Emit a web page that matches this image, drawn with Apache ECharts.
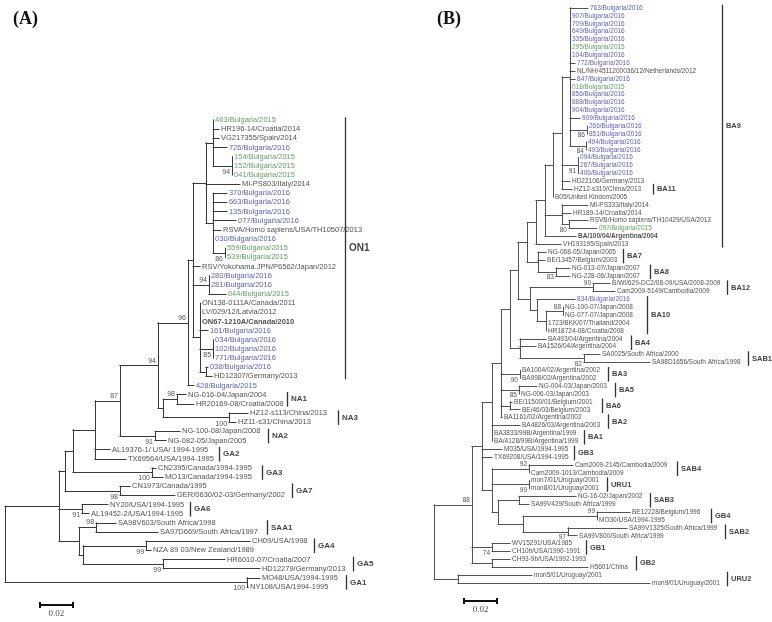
<!DOCTYPE html>
<html><head><meta charset="utf-8">
<script src="https://cdn.jsdelivr.net/npm/echarts@6/dist/echarts.min.js"></script>
<style>html,body{margin:0;padding:0;background:#fff}#c{width:772px;height:622px}</style>
</head><body><div id="c"></div>
<script>
// ---- helpers to describe trees: depth d = distance from root (substitutions/site)
function N(d, s, c){ return {d:d, s:s, c:c}; }
function L(n, d){ return {n:n, d:d}; }

// ---------------- Panel A (NA / GA / ON1) ----------------
const treeA = N(0, null, [
  N(0.0327, null, [
    N(0.0364, null, [
      N(0.0412, null, [
        N(0.0545, null, [
          N(0.0697, 87, [
            N(0.0927, 94, [
              N(0.1109, 96, [
                N(0.1139, null, [
                  N(0.1218, null, [
                    N(0.1261, null, [
                      L('463/Bulgaria/2015', 0.1261),
                      L('HR196-14/Croatia/2014', 0.1297),
                      L('VG217355/Spain/2014', 0.1297),
                      L('726/Bulgaria/2016', 0.1345),
                      N(0.1376, 94, [L('154/Bulgaria/2015',0.1376), L('152/Bulgaria/2015',0.1376), L('041/Bulgaria/2015',0.1376)])
                    ]),
                    L('MI-PS803/Italy/2014', 0.1424),
                    N(0.1261, null, [
                      L('370/Bulgaria/2016',0.1345), L('663/Bulgaria/2016',0.1345), L('135/Bulgaria/2016',0.1345),
                      L('077/Bulgaria/2016',0.1400),
                      L('RSVA/Homo sapiens/USA/TH10507/2013',0.1309),
                      L('030/Bulgaria/2016',0.1261),
                      N(0.1333, 86, [L('559/Bulgaria/2015',0.1333), L('539/Bulgaria/2015',0.1333)])
                    ])
                  ]),
                  L('RSV/Yokohama.JPN/P6562/Japan/2012', 0.1182),
                  N(0.1236, 94, [L('280/Bulgaria/2016',0.1236), L('281/Bulgaria/2016',0.1236), L('044/Bulgaria/2015',0.1339)]),
                  N(0.1182, null, [
                    L('ON138-0111A/Canada/2011',0.1182), L('LV/029/12/Latvia/2012',0.1182), L('ON67-1210A/Canada/2010',0.1182),
                    L('161/Bulgaria/2016',0.1230),
                    N(0.1261, 85, [L('034/Bulgaria/2016',0.1261), L('102/Bulgaria/2016',0.1261), L('771/Bulgaria/2016',0.1261)]),
                    N(0.1218, null, [L('038/Bulgaria/2016',0.1230), L('HD12307/Germany/2013',0.1255)])
                  ])
                ]),
                L('428/Bulgaria/2015', 0.1145)
              ]),
              N(0.0958, null, [
                N(0.1042, 98, [L('NG-016-04/Japan/2004',0.1097), L('HR20169-08/Croatia/2008',0.1145)]),
                N(0.1358, 100, [L('HZ12-s113/China/2013',0.1473), L('HZ11-s31/China/2013',0.1400)])
              ])
            ]),
            N(0.0909, 91, [L('NG-100-08/Japan/2008',0.1061), L('NG-082-05/Japan/2005',0.0976)])
          ]),
          L('AL19376-1/ USA/ 1994-1995', 0.0636),
          L('TX69564/USA/1994-1995', 0.0733)
        ]),
        N(0.0891, 100, [L('CN2395/Canada/1994-1995',0.0915), L('MO13/Canada/1994-1995',0.0958)])
      ]),
      N(0.0697, 98, [L('CN1973/Canada/1995',0.0758), L('GER/0630/02-03/Germany/2002',0.1030)])
    ]),
    N(0.0467, 91, [L('NY20/USA/1994-1995',0.0624), L('AL19452-2/USA/1994-1995',0.0509)]),
    N(0.0448, null, [
      N(0.0552, 98, [L('SA98V603/South Africa/1998',0.0673), L('SA97D669/South Africa/1997',0.0927)]),
      N(0.0473, null, [
        N(0.0855, 99, [L('CH09/USA/1998',0.1485), L('NZA 89 03/New Zealand/1989',0.0885)]),
        N(0.0958, 99, [L('HR6010-07/Croatia/2007',0.1333), L('HD12279/Germany/2013',0.1545)])
      ])
    ])
  ]),
  N(0.1467, 100, [L('MO48/USA/1994-1995',0.1545), L('NY108/USA/1994-1995',0.1473)])
]);
// clades with support printed under the branch (keyed by first leaf of clade)
const supportBelowA = ['154/Bulgaria/2015','559/Bulgaria/2015','034/Bulgaria/2016','HZ12-s113/China/2013',
  'NG-100-08/Japan/2008','CN2395/Canada/1994-1995','CN1973/Canada/1995','NY20/USA/1994-1995',
  'CH09/USA/1998','HR6010-07/Croatia/2007','MO48/USA/1994-1995'];
const cladesA = [
  ['ON1','463/Bulgaria/2015','HD12307/Germany/2013'],
  ['NA1','NG-016-04/Japan/2004','HR20169-08/Croatia/2008'],
  ['NA3','HZ12-s113/China/2013','HZ11-s31/China/2013'],
  ['NA2','NG-100-08/Japan/2008','NG-082-05/Japan/2005'],
  ['GA2','AL19376-1/ USA/ 1994-1995','TX69564/USA/1994-1995'],
  ['GA3','CN2395/Canada/1994-1995','MO13/Canada/1994-1995'],
  ['GA7','CN1973/Canada/1995','GER/0630/02-03/Germany/2002'],
  ['GA6','NY20/USA/1994-1995','AL19452-2/USA/1994-1995'],
  ['SAA1','SA98V603/South Africa/1998','SA97D669/South Africa/1997'],
  ['GA4','CH09/USA/1998','NZA 89 03/New Zealand/1989'],
  ['GA5','HR6010-07/Croatia/2007','HD12279/Germany/2013'],
  ['GA1','MO48/USA/1994-1995','NY108/USA/1994-1995']
];
const cladeBarXA = [0.2061,0.1709,0.2018,0.1594,0.1297,0.1558,0.1739,0.1121,0.1588,0.1873,0.2109,0.2067];

// ---------------- Panel B (BA / GB / SAB / URU) ----------------
const treeB = N(0, null, [
  N(0.0230, 88, [
    N(0.0291, null, [
      N(0.0352, null, [
        N(0.0406, null, [
          N(0.0461, null, [
            N(0.0509, null, [
              N(0.0564, null, [
                N(0.0618, null, [
                  N(0.0673, null, [
                    N(0.0721, null, [
                      N(0.0776, null, [
                        N(0.0824, null, [
                          L('763/Bulgaria/2016',0.0933),
                          L('907/Bulgaria/2016',0.0824), L('709/Bulgaria/2016',0.0824), L('649/Bulgaria/2016',0.0824),
                          L('335/Bulgaria/2016',0.0824), L('295/Bulgaria/2015',0.0824), L('104/Bulgaria/2016',0.0824),
                          L('772/Bulgaria/2016',0.0855), L('NL/NH/4511200036/12/Netherlands/2012',0.0855), L('847/Bulgaria/2016',0.0855),
                          L('018/Bulgaria/2015',0.0824), L('856/Bulgaria/2016',0.0824), L('888/Bulgaria/2016',0.0824), L('904/Bulgaria/2016',0.0824),
                          L('909/Bulgaria/2016',0.0885),
                          N(0.0927, 86, [L('266/Bulgaria/2016',0.0927), L('851/Bulgaria/2016',0.0927)]),
                          N(0.0921, 84, [L('494/Bulgaria/2016',0.0921), L('493/Bulgaria/2016',0.0921)])
                        ]),
                        N(0.0873, 91, [L('094/Bulgaria/2016',0.0873), L('267/Bulgaria/2016',0.0873), L('406/Bulgaria/2016',0.0873)]),
                        L('HD22106/Germany/2013',0.0824),
                        L('HZ12-s310/China/2013',0.0836)
                      ]),
                      L('B05/United Kindom/2005',0.0721)
                    ]),
                    N(0.0776, null, [
                      L('MI-PS333/Italy/2014',0.0933),
                      L('HR189-14/Croatia/2014',0.0830),
                      N(0.0818, 80, [L('RSVB/Homo sapiens/TH10429/USA/2013',0.0933), L('097/Bulgaria/2015',0.0988)])
                    ]),
                    L('BA/100/04/Argentina/2004',0.0861)
                  ]),
                  L('VH193195/Spain/2013',0.0770)
                ]),
                N(0.0630, null, [
                  L('NG-068-05/Japan/2005',0.0679),
                  L('BE/13457/Belgium/2003',0.0673),
                  N(0.0739, 83, [L('NG-013-07/Japan/2007',0.0824), L('NG-228-06/Japan/2007',0.0824)])
                ])
              ]),
              N(0.0582, null, [
                N(0.0964, 90, [L('B/WI/629-DC2/08-09/USA/2008-2009',0.1067), L('Cam2009-5149/Cambodia/2009',0.1097)]),
                N(0.0624, null, [
                  L('834/Bulgaria/2016',0.0855),
                  N(0.0679, null, [
                    N(0.0782, 88, [L('NG-100-07/Japan/2008',0.0782), L('NG-077-07/Japan/2008',0.0782)]),
                    L('1723/BKK/07/Thailand/2004',0.0679),
                    L('HR18724-08/Croatia/2008',0.0679)
                  ])
                ])
              ])
            ]),
            N(0.0521, null, [
              L('BA493/04/Argentina/2004',0.0679),
              L('BA1526/04/Argentina/2004',0.0618),
              N(0.0909, 82, [L('SA0025/South Africa/2000',0.1006), L('SA98D1656/South Africa/1998',0.1309)])
            ])
          ]),
          N(0.0521, 90, [L('BA1004/02/Argentina/2002',0.0521), L('BA998/02/Argentina/2002',0.0521)]),
          N(0.0515, 85, [L('NG-004-03/Japan/2003',0.0624), L('NG-006-03/Japan/2003',0.0515)]),
          N(0.0461, null, [L('BE/11500/01/Belgium/2001',0.0473), L('BE/46/03/Belgium/2003',0.0521)]),
          L('BA1161/02/Argentina/2002',0.0412)
        ]),
        L('BA4826/03/Argentina/2003',0.0521),
        L('BA3833/99B/Argentina/1999',0.0352),
        L('BA/4128/99B/Argentina/1999',0.0352)
      ]),
      L('M035/USA/1994-1995',0.0412),
      L('TX69208/USA/1994-1995',0.0352),
      N(0.0352, null, [
        N(0.0576, 92, [L('Cam2009-2145/Cambodia/2009',0.0842), L('Cam2009-1013/Cambodia/2009',0.0576)]),
        N(0.0576, 99, [L('mon7/01/Uruguay/2001',0.0576), L('mon8/01/Uruguay/2001',0.0576)]),
        N(0.0388, null, [
          N(0.0515, null, [L('NG-16-02/Japan/2002',0.0861), L('SA99V429/South Africa/1999',0.0576)]),
          N(0.0539, null, [
            N(0.0988, 99, [L('BE12228/Belgium/1996',0.1188), L('MO30/USA/1994-1995',0.0988)]),
            N(0.0812, 97, [L('SA99V1325/South Africa/1999',0.1170), L('SA99V800/South Africa/1999',0.0867)])
          ])
        ])
      ])
    ]),
    N(0.0352, 74, [L('WV15291/USA/1985',0.0461), L('CH10b/USA/1990-1991',0.0461)]),
    N(0.0352, null, [L('CH93-9b/USA/1992-1993',0.0461), L('H5601/China',0.0933)])
  ]),
  N(0.0145, null, [L('mon5/01/Uruguay/2001',0.0594), L('mon9/01/Uruguay/2001',0.1309)])
]);
const supportBelowB = ['266/Bulgaria/2016','494/Bulgaria/2016','094/Bulgaria/2016','RSVB/Homo sapiens/TH10429/USA/2013',
  'NG-013-07/Japan/2007','SA0025/South Africa/2000','BA1004/02/Argentina/2002','NG-004-03/Japan/2003',
  'mon7/01/Uruguay/2001','SA99V1325/South Africa/1999','WV15291/USA/1985'];
const cladesB = [
  ['BA9','763/Bulgaria/2016','VH193195/Spain/2013'],
  ['BA11','HZ12-s310/China/2013','HZ12-s310/China/2013'],
  ['BA7','NG-068-05/Japan/2005','BE/13457/Belgium/2003'],
  ['BA8','NG-013-07/Japan/2007','NG-228-06/Japan/2007'],
  ['BA12','B/WI/629-DC2/08-09/USA/2008-2009','Cam2009-5149/Cambodia/2009'],
  ['BA10','834/Bulgaria/2016','HR18724-08/Croatia/2008'],
  ['BA4','BA493/04/Argentina/2004','BA1526/04/Argentina/2004'],
  ['SAB1','SA0025/South Africa/2000','SA98D1656/South Africa/1998'],
  ['BA3','BA1004/02/Argentina/2002','BA998/02/Argentina/2002'],
  ['BA5','NG-004-03/Japan/2003','NG-006-03/Japan/2003'],
  ['BA6','BE/11500/01/Belgium/2001','BE/46/03/Belgium/2003'],
  ['BA2','BA1161/02/Argentina/2002','BA4826/03/Argentina/2003'],
  ['BA1','BA3833/99B/Argentina/1999','BA/4128/99B/Argentina/1999'],
  ['GB3','M035/USA/1994-1995','TX69208/USA/1994-1995'],
  ['SAB4','Cam2009-2145/Cambodia/2009','Cam2009-1013/Cambodia/2009'],
  ['URU1','mon7/01/Uruguay/2001','mon8/01/Uruguay/2001'],
  ['SAB3','NG-16-02/Japan/2002','SA99V429/South Africa/1999'],
  ['GB4','BE12228/Belgium/1996','MO30/USA/1994-1995'],
  ['SAB2','SA99V1325/South Africa/1999','SA99V800/South Africa/1999'],
  ['GB1','WV15291/USA/1985','CH10b/USA/1990-1991'],
  ['GB2','CH93-9b/USA/1992-1993','H5601/China'],
  ['URU2','mon5/01/Uruguay/2001','mon9/01/Uruguay/2001']
];
const cladeBarXB = [0.1745,0.1327,0.1145,0.1309,0.1776,0.1291,0.1194,0.1903,0.1055,0.1097,0.1018,0.1055,
  0.0909,0.0848,0.1473,0.1048,0.1309,0.1679,0.1764,0.0921,0.1224,0.1776];

const referenceStrains = ['ON67-1210A/Canada/2010','BA/100/04/Argentina/2004'];
const scaleLabel = '0.02';
const scaleLength = 0.02;

// ---------------- styling ----------------
const GREEN = '#3b8c3b', BLUE = '#3535b2', TEXT = '#1e1e1e';
function leafColor(n){
  if (/\/Bulgaria\/2015$/.test(n) && n !== '428/Bulgaria/2015') return GREEN;
  if (/\/Bulgaria\/201[56]$/.test(n)) return BLUE;
  return TEXT;
}

function buildPanel(tree, gi, below, clades, barX, cfg){
  const leaves = [], segs = [], sups = [];
  let idx = 0;
  (function walk(nd){
    if (nd.n !== undefined){ nd.y = idx++; nd.first = nd.n; leaves.push(nd); return; }
    nd.c.forEach(walk);
    nd.first = nd.c[0].first;
    const y0 = nd.c[0].y, y1 = nd.c[nd.c.length-1].y;
    nd.y = (y0 + y1) / 2;
    segs.push({coords:[[nd.d, y0],[nd.d, y1]]});
    nd.c.forEach(ch => { if (ch.d > nd.d + 1e-9) segs.push({coords:[[nd.d, ch.y],[ch.d, ch.y]]}); });
    if (nd.s != null) sups.push(nd);
  })(tree);
  const yOf = {}; leaves.forEach(l => yOf[l.n] = l.y);
  const common = {xAxisIndex: gi, yAxisIndex: gi, silent: true, animation: false, clip: false};
  const series = [];
  series.push(Object.assign({type:'lines', coordinateSystem:'cartesian2d', polyline:false, z:2,
    lineStyle:{color:cfg.branch, width:1, opacity:1, cap:'square'}, data:segs}, common));
  series.push(Object.assign({type:'scatter', symbolSize:0, z:3,
    label:{show:true, position:'right', distance:2, formatter:'{b}', fontSize:cfg.fs, fontFamily:'Liberation Sans, Arial, sans-serif'},
    data: leaves.map(l => ({name:l.n, value:[l.d, l.y],
      label:{color:leafColor(l.n), fontWeight: referenceStrains.includes(l.n) ? 'bold' : 'normal'}}))}, common));
  series.push(Object.assign({type:'scatter', symbolSize:0, z:3,
    label:{show:true, position:'left', distance:2, formatter:'{b}', fontSize:cfg.sfs, color:TEXT, fontFamily:'Liberation Sans, Arial, sans-serif'},
    data: sups.map(s => ({name:String(s.s), value:[s.d, s.y],
      label:{offset:[0, below.includes(s.first) ? cfg.sdy + 1 : -cfg.sdy]}}))}, common));
  const bars = [], barLabels = [];
  clades.forEach((c, i) => {
    const y0 = yOf[c[1]], y1 = yOf[c[2]];
    const h = (y0 === y1) ? cfg.barPad * 1.6 : cfg.barPad;
    bars.push({coords:[[barX[i], y0 - h],[barX[i], y1 + h]]});
    barLabels.push({name:c[0], value:[barX[i], (y0 + y1) / 2]});
  });
  series.push(Object.assign({type:'lines', coordinateSystem:'cartesian2d', z:2,
    lineStyle:{color:'#333', width:1.3, opacity:1}, data:bars}, common));
  series.push(Object.assign({type:'scatter', symbolSize:0, z:3,
    label:{show:true, position:'right', distance:4, formatter:'{b}', fontWeight:'bold', color:'#111',
      fontSize:cfg.cfs, fontFamily:'Liberation Sans, Arial, sans-serif'},
    data: barLabels.map(b => b.name === 'ON1' ? Object.assign({}, b, {label:{fontSize:cfg.cfs + 2}}) : b)}, common));
  // scale bar
  const sx0 = cfg.scaleX, sx1 = cfg.scaleX + scaleLength, sy = cfg.scaleY, t = cfg.tick;
  series.push(Object.assign({type:'lines', coordinateSystem:'cartesian2d', z:2,
    lineStyle:{color:'#111', width:2, opacity:1},
    data:[{coords:[[sx0, sy],[sx1, sy]]},{coords:[[sx0, sy - t],[sx0, sy + t]]},{coords:[[sx1, sy - t],[sx1, sy + t]]}]}, common));
  series.push(Object.assign({type:'scatter', symbolSize:0, z:3,
    label:{show:true, position:'bottom', distance:4, formatter:'{b}', fontSize:9, color:'#222',
      fontFamily:'Liberation Serif, Times New Roman, serif'},
    data:[{name:scaleLabel, value:[(sx0 + sx1) / 2, sy]}]}, common));
  return {series: series, n: leaves.length};
}

const pA = buildPanel(treeA, 0, supportBelowA, cladesA, cladeBarXA,
  {branch:'#3a3a3a', fs:7.5, sfs:7, sdy:5, cfs:8, barPad:0.3, scaleX:0.0212, scaleY:52.96, tick:0.33});
const pB = buildPanel(treeB, 1, supportBelowB, cladesB, cladeBarXB,
  {branch:'#555555', fs:6.5, sfs:6.5, sdy:4.5, cfs:7.5, barPad:0.42, scaleX:0.0182, scaleY:75.28, tick:0.38});

const chart = echarts.init(document.getElementById('c'), null, {renderer:'canvas'});
chart.setOption({
  animation:false,
  backgroundColor:'#ffffff',
  title:[
    {text:'(A)', left:8, top:5, textStyle:{fontFamily:'Liberation Serif, Times New Roman, serif', fontWeight:'bold', fontSize:18, color:'#111'}},
    {text:'(B)', left:432, top:5, textStyle:{fontFamily:'Liberation Serif, Times New Roman, serif', fontWeight:'bold', fontSize:18, color:'#111'}}
  ],
  grid:[
    {left:5, top:120, width:330, height:467},
    {left:434, top:8, width:330, height:575}
  ],
  xAxis:[
    {type:'value', gridIndex:0, min:0, max:0.2, show:false},
    {type:'value', gridIndex:1, min:0, max:0.2, show:false}
  ],
  yAxis:[
    {type:'value', gridIndex:0, min:0, max:pA.n - 1, inverse:true, show:false},
    {type:'value', gridIndex:1, min:0, max:pB.n - 1, inverse:true, show:false}
  ],
  series: pA.series.concat(pB.series)
});
</script>
</body></html>
